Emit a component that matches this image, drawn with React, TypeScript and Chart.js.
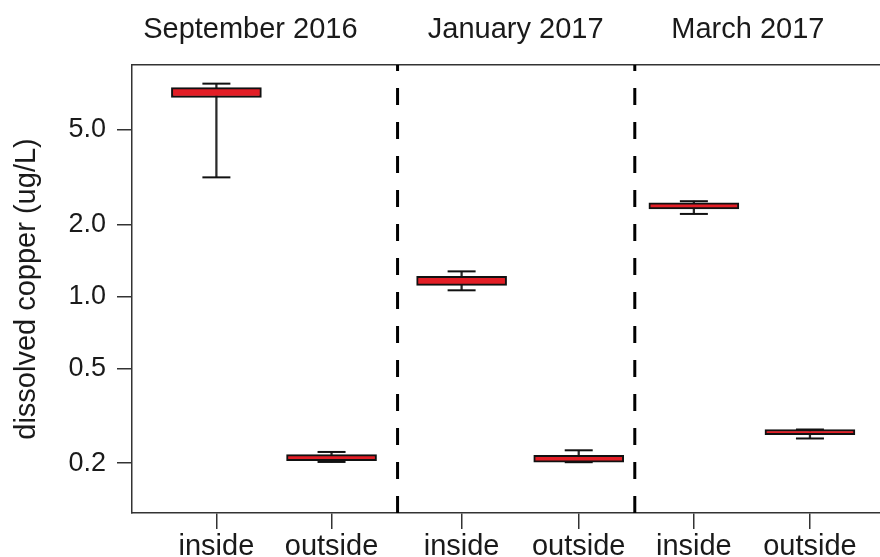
import React, { useEffect, useRef } from "react";
import { Chart, registerables } from "chart.js";

Chart.register(...registerables);

// ---- data ----
const categories = ["inside", "outside", "inside", "outside", "inside", "outside"];
const categoryX = [1, 1.996, 3.121, 4.134, 5.13, 6.134];
const whiskerLow = [3.16, 0.2025, 1.062, 0.202, 2.22, 0.254];
const boxLow = [6.83, 0.2048, 1.114, 0.202, 2.33, 0.2635];
const boxHigh = [7.52, 0.2175, 1.215, 0.216, 2.47, 0.277];
const whiskerHigh = [7.81, 0.223, 1.275, 0.2266, 2.51, 0.277];
const periods = ["September 2016", "January 2017", "March 2017"];
const periodX = [1.294, 3.589, 5.597];
const separatorX = [2.567, 4.619];
const yTicks = [0.2, 0.5, 1, 2, 5];
const yTitle = "dissolved copper (ug/L)";

const X_MIN = 0.27;
const X_MAX = 6.74;
const Y_MIN = 0.1237;
const Y_MAX = 9.35;

const W = 880;
const H = 557;
const FONT = "'Liberation Sans', Arial, Helvetica, sans-serif";
const TEXT = "#1a1a1a";
const AXIS = "#333";

const noPadX = (h: number) => (s: any) => {
  s.height = h;
  s.paddingLeft = 0;
  s.paddingRight = 0;
};

export default function App() {
  const ref = useRef<HTMLCanvasElement | null>(null);

  useEffect(() => {
    if (!ref.current) return;

    const boxData = categoryX.map((x, i) => ({ x, y: [boxLow[i], boxHigh[i]] }));
    const whiskerData = categoryX.map((x, i) => ({ x, y: [whiskerLow[i], whiskerHigh[i]] }));
    const capData: { x: number; y: number }[] = [];
    categoryX.forEach((x, i) => {
      capData.push({ x, y: whiskerLow[i] });
      capData.push({ x, y: whiskerHigh[i] });
    });

    const sepSets = separatorX.map((x) => ({
      type: "line" as const,
      data: [
        { x, y: Y_MAX },
        { x, y: Y_MIN },
      ],
      borderColor: "#000",
      borderWidth: 3,
      borderDash: [17, 17],
      borderDashOffset: 11,
      pointRadius: 0,
      order: 3,
      parsing: false as const,
    }));

    const chart = new Chart(ref.current, {
      type: "bar",
      data: {
        datasets: [
          ...sepSets,
          {
            type: "bar",
            data: whiskerData as any,
            backgroundColor: "#2a2a2a",
            borderWidth: 0,
            barThickness: 1.6,
            grouped: false,
            order: 2,
          },
          {
            type: "scatter",
            data: capData,
            pointStyle: "line",
            pointRadius: 14,
            borderColor: "#111",
            borderWidth: 2,
            order: 1,
          },
          {
            type: "bar",
            data: boxData as any,
            backgroundColor: "#e31e26",
            borderColor: "#111",
            borderWidth: 2,
            borderSkipped: false,
            barThickness: 90,
            grouped: false,
            order: 0,
          },
        ] as any,
      },
      options: {
        responsive: false,
        maintainAspectRatio: false,
        animation: false,
        layout: { padding: 0 },
        plugins: { legend: { display: false }, tooltip: { enabled: false } },
        scales: {
          x: {
            type: "linear",
            position: "bottom",
            min: X_MIN,
            max: X_MAX,
            offset: false,
            afterBuildTicks: (s: any) => {
              s.ticks = categoryX.map((v) => ({ value: v }));
            },
            afterFit: noPadX(44),
            ticks: {
              autoSkip: false,
              maxRotation: 0,
              padding: 1,
              color: TEXT,
              font: { family: FONT, size: 29 },
              callback: (_v: any, i: number) => categories[i],
            },
            grid: {
              display: true,
              drawOnChartArea: false,
              offset: false,
              tickLength: 16,
              color: AXIS,
              lineWidth: 1.5,
            },
            border: { display: true, color: AXIS, width: 1.5 },
          },
          x2: {
            type: "linear",
            position: "top",
            min: X_MIN,
            max: X_MAX,
            offset: false,
            afterBuildTicks: (s: any) => {
              s.ticks = periodX.map((v) => ({ value: v }));
            },
            afterFit: noPadX(65),
            ticks: {
              autoSkip: false,
              maxRotation: 0,
              padding: 18,
              color: TEXT,
              font: { family: FONT, size: 29 },
              callback: (_v: any, i: number) => periods[i],
            },
            grid: { display: false, drawTicks: false },
            border: { display: true, color: AXIS, width: 1.5 },
          },
          y: {
            type: "logarithmic",
            min: Y_MIN,
            max: Y_MAX,
            afterBuildTicks: (s: any) => {
              s.ticks = yTicks.map((v) => ({ value: v }));
            },
            afterFit: (s: any) => {
              s.width = 132;
              s.paddingTop = 0;
              s.paddingBottom = 0;
            },
            ticks: {
              autoSkip: false,
              padding: 11,
              color: TEXT,
              font: { family: FONT, size: 27 },
              callback: (v: any) => Number(v).toFixed(1),
            },
            grid: {
              display: true,
              drawOnChartArea: false,
              tickLength: 15,
              color: AXIS,
              lineWidth: 1.5,
            },
            border: { display: true, color: AXIS, width: 1.5 },
            title: {
              display: true,
              text: yTitle,
              color: TEXT,
              font: { family: FONT, size: 29 },
              padding: { top: 10, bottom: 0 },
            },
          },
        },
      } as any,
    });

    // the plot region runs to the right edge of the picture (its right side is cropped)
    for (let k = 0; k < 3; k++) {
      const deficit = W - chart.chartArea.right;
      if (Math.abs(deficit) < 0.5) break;
      chart.resize(Math.round(chart.width + deficit), H);
    }

    return () => chart.destroy();
  }, []);

  return (
    <div style={{ position: "fixed", left: 0, top: 0, width: W, height: H, overflow: "hidden", background: "#fff" }}>
      <div style={{ width: 1200, height: H }}>
        <canvas ref={ref} width={W} height={H} style={{ display: "block" }} />
      </div>
    </div>
  );
}
